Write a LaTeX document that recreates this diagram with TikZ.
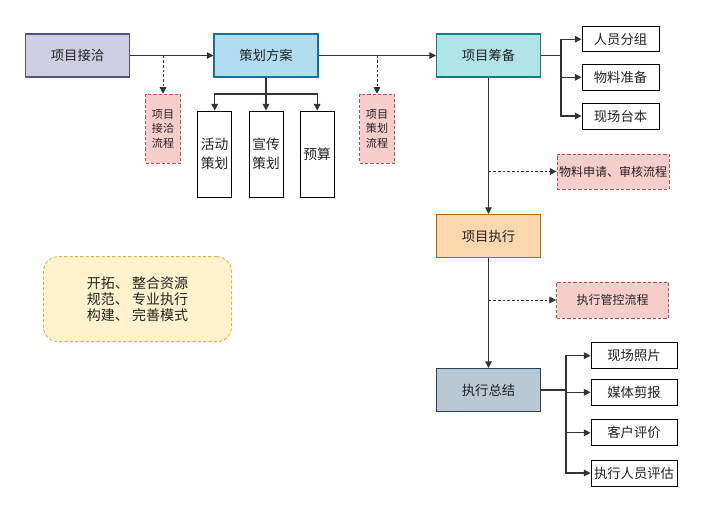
\documentclass[tikz,border=0pt]{standalone}
\usepackage{fontspec}
\setmainfont{Noto Sans CJK SC}
\usetikzlibrary{arrows.meta,calc}
\definecolor{txt}{HTML}{222222}
\definecolor{ln}{HTML}{333333}
\definecolor{pinkF}{HTML}{F8CECC}
\definecolor{pinkB}{HTML}{B85450}
\definecolor{aF}{HTML}{D0CEE2}
\definecolor{aB}{HTML}{56517E}
\definecolor{bF}{HTML}{B1DDF0}
\definecolor{bB}{HTML}{10739E}
\definecolor{cF}{HTML}{B0E3E6}
\definecolor{cB}{HTML}{0E8088}
\definecolor{dF}{HTML}{FAD7AC}
\definecolor{dB}{HTML}{B46504}
\definecolor{eF}{HTML}{BAC8D3}
\definecolor{eB}{HTML}{23445D}
\definecolor{yF}{HTML}{FFF2CC}
\definecolor{yB}{HTML}{D6B656}
\tikzset{
  x=0.75pt,y=-0.75pt,
  box/.style={draw, line width=0.8pt, minimum width=78pt, minimum height=32.25pt, font=\fontsize{10}{12}\selectfont, text=txt, inner sep=0pt},
  pinkbox/.style={draw=pinkB, fill=pinkF, dash pattern=on 2.5pt off 1.5pt, line width=0.7pt, inner sep=0pt, text=txt, align=center},
  whitebox/.style={draw=black, fill=white, line width=0.7pt, inner sep=0pt, text=txt, align=center, font=\fontsize{10}{12}\selectfont},
  arr/.style={draw=ln, line width=0.8pt, -{Triangle[length=5pt,width=5pt]}},
  ln/.style={draw=ln, line width=0.8pt},
  darr/.style={draw=ln, line width=0.7pt, dash pattern=on 2pt off 1.5pt, -{Triangle[length=5pt,width=5pt]}},
}
\begin{document}
\begin{tikzpicture}
\useasboundingbox[fill=white] (0,0) rectangle (703,512);
% main nodes
\node[box, fill=aF, draw=aB] (A) at (77.5,55.5) {项目接洽};
\node[box, fill=bF, draw=bB] (B) at (266,55.5) {策划方案};
\node[box, fill=cF, draw=cB] (C) at (488.5,55.5) {项目筹备};
\node[box, fill=dF, draw=dB] (D) at (488.5,236) {项目执行};
\node[box, fill=eF, draw=eB] (E) at (488.5,390) {执行总结};
% pink boxes
\node[pinkbox, minimum width=26.25pt, minimum height=51.75pt, font=\fontsize{8.3}{11}\selectfont] (P1) at (163,128.7) {项目\\接洽\\流程};
\node[pinkbox, minimum width=26.25pt, minimum height=51.75pt, font=\fontsize{8.3}{11}\selectfont] (P2) at (377,128.7) {项目\\策划\\流程};
\node[pinkbox, minimum width=84pt, minimum height=26.25pt, font=\fontsize{9}{11}\selectfont] (P3) at (613,171.5) {物料申请、审核流程};
\node[pinkbox, minimum width=84pt, minimum height=27pt, font=\fontsize{9}{11}\selectfont] (P4) at (612.5,300) {执行管控流程};
% children of B
\node[whitebox, minimum width=25.5pt, minimum height=64.5pt, font=\fontsize{10.3}{14}\selectfont] (K1) at (214.7,154) {活动\\策划};
\node[whitebox, minimum width=25.5pt, minimum height=64.5pt, font=\fontsize{10.3}{14}\selectfont] (K2) at (266,154) {宣传\\策划};
\node[whitebox, minimum width=25.5pt, minimum height=64.5pt, font=\fontsize{10.3}{14}\selectfont] (K3) at (317.2,154) {预算};
% children of C
\node[whitebox, minimum width=57.75pt, minimum height=19pt] (R1) at (620.5,39.2) {人员分组};
\node[whitebox, minimum width=57.75pt, minimum height=19.5pt] (R2) at (620.5,77.3) {物料准备};
\node[whitebox, minimum width=57.75pt, minimum height=19.5pt] (R3) at (620.5,116) {现场台本};
% children of E
\node[whitebox, minimum width=64.5pt, minimum height=19.5pt] (S1) at (634,355.7) {现场照片};
\node[whitebox, minimum width=64.5pt, minimum height=19.5pt] (S2) at (634,392.3) {媒体剪报};
\node[whitebox, minimum width=64.5pt, minimum height=19.5pt] (S3) at (634,432.8) {客户评价};
\node[whitebox, minimum width=64.5pt, minimum height=19.5pt] (S4) at (634,473) {执行人员评估};
% yellow note
\node[draw=yB, fill=yF, dash pattern=on 2.5pt off 1.5pt, line width=0.7pt, rounded corners=11pt, minimum width=141pt, minimum height=63.75pt, align=center, text=txt, font=\fontsize{10.5}{12}\selectfont] (Y) at (137.5,299.2) {开拓、 整合资源\\规范、 专业执行\\构建、 完善模式};
% connectors
\draw[arr] (A.east) -- (B.west);
\draw[arr] (B.east) -- (C.west);
\draw[darr] (P1.north |- A.east) -- (P1.north);
\draw[darr] (P2.north |- B.east) -- (P2.north);
\coordinate (bj) at (266,94);
\draw[ln] (B.south) -- (bj);
\draw[arr] (bj) -| (K1.north);
\draw[arr] (bj) -| (K3.north);
\draw[arr] (bj) -- (K2.north);
\coordinate (cj) at (561,55.5);
\draw[ln] (C.east) -- (cj);
\draw[arr] (cj) |- (R1.west);
\draw[arr] (cj) |- (R2.west);
\draw[arr] (cj) |- (R3.west);
\draw[arr] (C.south) -- (D.north);
\draw[darr] (C.south |- P3.west) -- (P3.west);
\draw[arr] (D.south) -- (E.north);
\draw[darr] (D.south |- P4.west) -- (P4.west);
\coordinate (ej) at (566,390);
\draw[ln] (E.east) -- (ej);
\draw[arr] (ej) |- (S1.west);
\draw[arr] (ej) |- (S2.west);
\draw[arr] (ej) |- (S3.west);
\draw[arr] (ej) |- (S4.west);
\end{tikzpicture}
\end{document}
